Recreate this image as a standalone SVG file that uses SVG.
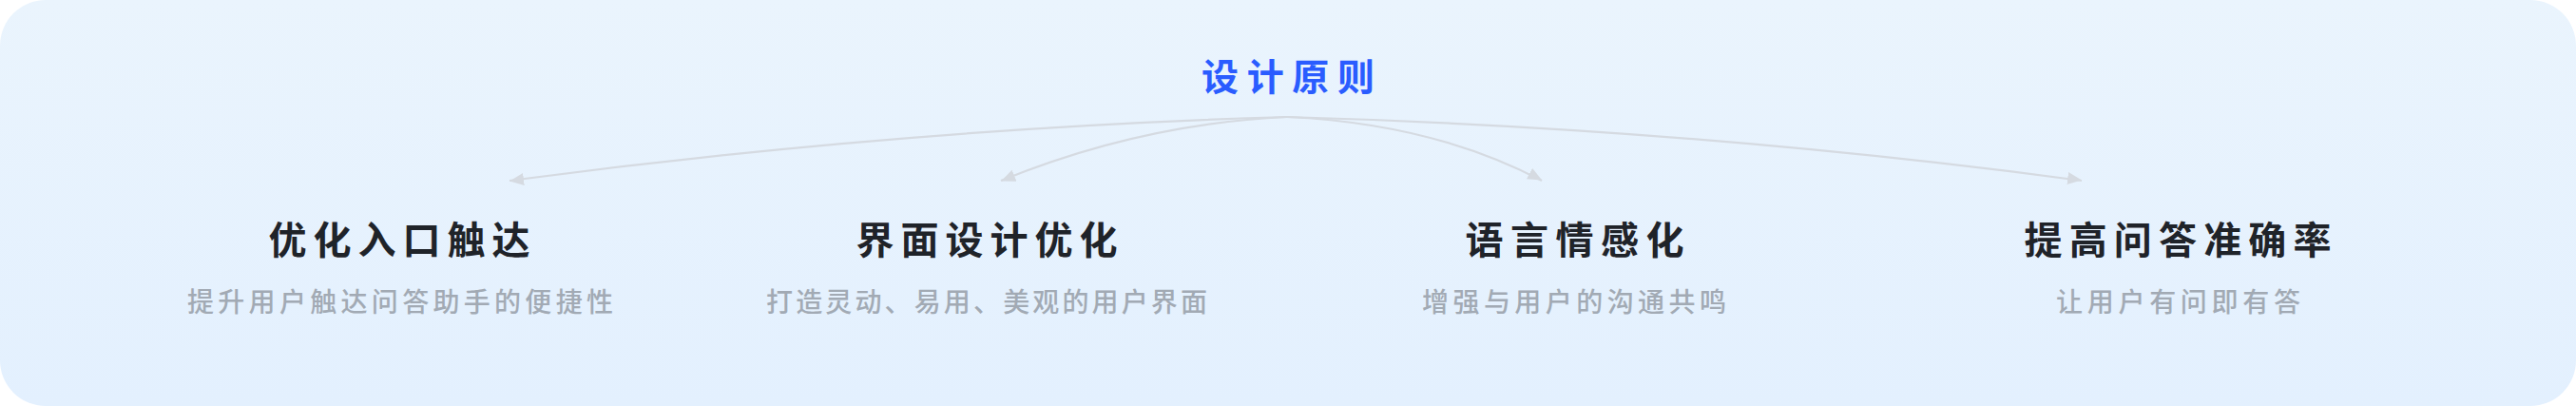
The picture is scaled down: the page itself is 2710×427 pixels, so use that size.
<svg xmlns="http://www.w3.org/2000/svg" width="2710" height="427" viewBox="0 0 2710 427">
  <defs>
    <linearGradient id="bg" x1="0" y1="0" x2="0" y2="1">
      <stop offset="0" stop-color="#EAF4FD"/>
      <stop offset="1" stop-color="#E3F0FE"/>
    </linearGradient>
    <marker id="arrow" markerUnits="userSpaceOnUse" markerWidth="16" markerHeight="14" refX="15" refY="7" orient="auto">
      <path d="M0,0 L15,6.5 L0,13 Z" fill="#D5DAE1"/>
    </marker>
    <style>
      .t { font-family: "Noto Sans CJK SC", "Noto Sans", sans-serif; }
      .main { font-size: 39px; font-weight: 700; fill: #2A5CFF; }
      .title { font-size: 40px; font-weight: 700; fill: #1F2329; }
      .sub { font-size: 28px; font-weight: 500; fill: #A2AAB4; }
      .link { fill: none; stroke: #D5DAE1; stroke-width: 2.2; marker-end: url(#arrow); }
    </style>
  </defs>
  <rect x="0" y="0" width="2710" height="427" fill="#FFFFFF"/>
  <rect x="0" y="0" width="2710" height="427" rx="48" ry="48" fill="url(#bg)"/>

  <g id="connectors">
    <path class="link" d="M1354,123 Q950,135 536,190"/>
    <path class="link" d="M1354,123 Q1200,130 1053,190"/>
    <path class="link" d="M1354,123 Q1508,130 1622,190"/>
    <path class="link" d="M1354,123 Q1780,135 2190,190"/>
  </g>

  <g id="root">
    <text class="t main" x="1264" y="95" textLength="182" lengthAdjust="spacing">设计原则</text>
  </g>
  <g id="node1">
    <text class="t title" x="282.5" y="267" textLength="275" lengthAdjust="spacing">优化入口触达</text>
    <text class="t sub" x="197" y="328" textLength="448" lengthAdjust="spacing">提升用户触达问答助手的便捷性</text>
  </g>
  <g id="node2">
    <text class="t title" x="900.5" y="267" textLength="275" lengthAdjust="spacing">界面设计优化</text>
    <text class="t sub" x="806" y="328" textLength="464" lengthAdjust="spacing">打造灵动、易用、美观的用户界面</text>
  </g>
  <g id="node3">
    <text class="t title" x="1541.5" y="267" textLength="230" lengthAdjust="spacing">语言情感化</text>
    <text class="t sub" x="1496" y="328" textLength="320" lengthAdjust="spacing">增强与用户的沟通共鸣</text>
  </g>
  <g id="node4">
    <text class="t title" x="2129.5" y="267" textLength="323" lengthAdjust="spacing">提高问答准确率</text>
    <text class="t sub" x="2163" y="328" textLength="257" lengthAdjust="spacing">让用户有问即有答</text>
  </g>
</svg>
